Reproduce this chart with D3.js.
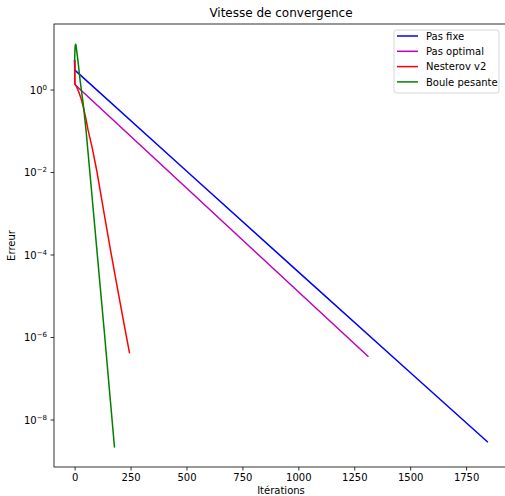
<!DOCTYPE html>
<html><head><meta charset="utf-8">
<script src="https://cdn.jsdelivr.net/npm/d3@7"></script>
<style>body{margin:0;background:#fff}svg{display:block}text{font-family:"DejaVu Sans",sans-serif}</style>
</head><body><svg id="c" width="505" height="496"></svg>
<script>
// ---- data ----
const iterFixe = [0, 1, 500, 1000, 1500, 1845];
const errFixe  = [4.9, 2.95, 1.06e-2, 3.8e-5, 1.38e-7, 2.88e-9];
const iterOpt  = [0, 1, 500, 1000, 1311];
const errOpt   = [4.9, 1.32, 4.09e-3, 1.25e-5, 3.42e-7];
const iterNest = [0, 1, 10, 20, 30, 40, 50, 60, 80, 100, 130, 160, 190, 220, 245];
const errNest  = [4.9, 1.40, 1.12, 0.83, 0.575, 0.355, 0.2, 0.105, 0.0355, 0.01, 1.12e-3, 1.32e-4, 1.66e-5, 2.19e-6, 4.17e-7];
const iterBoule = [0, 1, 2, 4, 6, 9, 13, 17, 25, 39, 51, 80, 110, 132, 155, 178];
const errBoule  = [4.9, 7.94, 10.5, 12.6, 12.0, 8.9, 6.0, 3.9, 1.58, 0.417, 0.102, 1.9e-3, 3.0e-5, 1.48e-6, 5.6e-8, 2.17e-9];
const seriesNames = ["Pas fixe", "Pas optimal", "Nesterov v2", "Boule pesante"];
const seriesColors = ["#0000ff", "#bf00bf", "#ff0000", "#008000"];
const xTicks = [0, 250, 500, 750, 1000, 1250, 1500, 1750];
const yTickExp = [0, -2, -4, -6, -8];
const title = "Vitesse de convergence", xLabel = "Itérations", yLabel = "Erreur";

const series = [[iterFixe, errFixe], [iterOpt, errOpt], [iterNest, errNest], [iterBoule, errBoule]]
  .map((s, i) => ({name: seriesNames[i], color: seriesColors[i], pts: s[0].map((x, j) => [x, s[1][j]])}));

const L = 54, R = 508, T = 24, B = 467;
const svg = d3.select("#c");
const allX = series.flatMap(s => s.pts.map(p => p[0]));
const allY = series.flatMap(s => s.pts.map(p => Math.log10(p[1])));
const [x0, x1] = d3.extent(allX), [l0, l1] = d3.extent(allY);
const mx = (x1 - x0) * 0.05, my = (l1 - l0) * 0.05;
const x = d3.scaleLinear().domain([x0 - mx, x1 + mx]).range([L, R]);
const y = d3.scaleLog().domain([Math.pow(10, l0 - my), Math.pow(10, l1 + my)]).range([B, T]);

svg.append("clipPath").attr("id", "clp").append("rect")
  .attr("x", L).attr("y", T).attr("width", R - L).attr("height", B - T);

const line = d3.line().x(d => x(d[0])).y(d => y(d[1])).curve(d3.curveLinear);
const g = svg.append("g").attr("clip-path", "url(#clp)");
series.forEach(s => g.append("path").attr("d", line(s.pts)).attr("fill", "none")
  .attr("stroke", s.color).attr("stroke-width", 1.5).attr("stroke-linejoin", "round").attr("stroke-linecap", "square"));

// axes
const ax = svg.append("g").attr("transform", `translate(0,${B})`)
  .call(d3.axisBottom(x).tickValues(xTicks).tickSize(3.5).tickPadding(3.5).tickFormat(d3.format("d")));
const ay = svg.append("g").attr("transform", `translate(${L},0)`)
  .call(d3.axisLeft(y).tickValues(yTickExp.map(e => Math.pow(10, e))).tickSize(3.5).tickPadding(3.5).tickFormat(""));
[ax, ay].forEach(a => {
  a.select(".domain").remove();
  a.selectAll("line").attr("stroke", "#000").attr("stroke-width", 0.8);
  a.selectAll("text").attr("font-size", 10).attr("fill", "#000").attr("font-family", "DejaVu Sans");
});
ay.selectAll(".tick").each(function(d) {
  const e = Math.round(Math.log10(d));
  const t = d3.select(this).append("text").attr("x", -7).attr("dy", "0.36em")
    .attr("text-anchor", "end").attr("font-size", 10).attr("fill", "#000");
  t.append("tspan").text("10");
  t.append("tspan").attr("font-size", 7).attr("dy", "-0.55em").text(e === 0 ? "0" : "\u2212" + Math.abs(e));
});
// spines
svg.append("rect").attr("x", L).attr("y", T).attr("width", R - L).attr("height", B - T)
  .attr("fill", "none").attr("stroke", "#000").attr("stroke-width", 0.8);

svg.append("text").attr("x", (L + R) / 2).attr("y", 17).attr("text-anchor", "middle")
  .attr("font-size", 12).text(title);
svg.append("text").attr("x", (L + R) / 2).attr("y", 494).attr("text-anchor", "middle")
  .attr("font-size", 10).text(xLabel);
svg.append("text").attr("transform", `translate(15,${(T + B) / 2}) rotate(-90)`).attr("text-anchor", "middle")
  .attr("font-size", 10).text(yLabel);

// legend
const lg = svg.append("g");
lg.append("rect").attr("x", 394).attr("y", 30).attr("width", 105).attr("height", 63).attr("rx", 2.5)
  .attr("fill", "#fff").attr("fill-opacity", 0.8).attr("stroke", "#cccccc").attr("stroke-width", 0.8);
series.forEach((s, i) => {
  const yy = 36 + i * 15.3;
  lg.append("line").attr("x1", 397).attr("x2", 418).attr("y1", yy).attr("y2", yy)
    .attr("stroke", s.color).attr("stroke-width", 1.5);
  lg.append("text").attr("x", 426).attr("y", yy).attr("dy", "0.36em").attr("font-size", 10).text(s.name);
});
</script></body></html>
